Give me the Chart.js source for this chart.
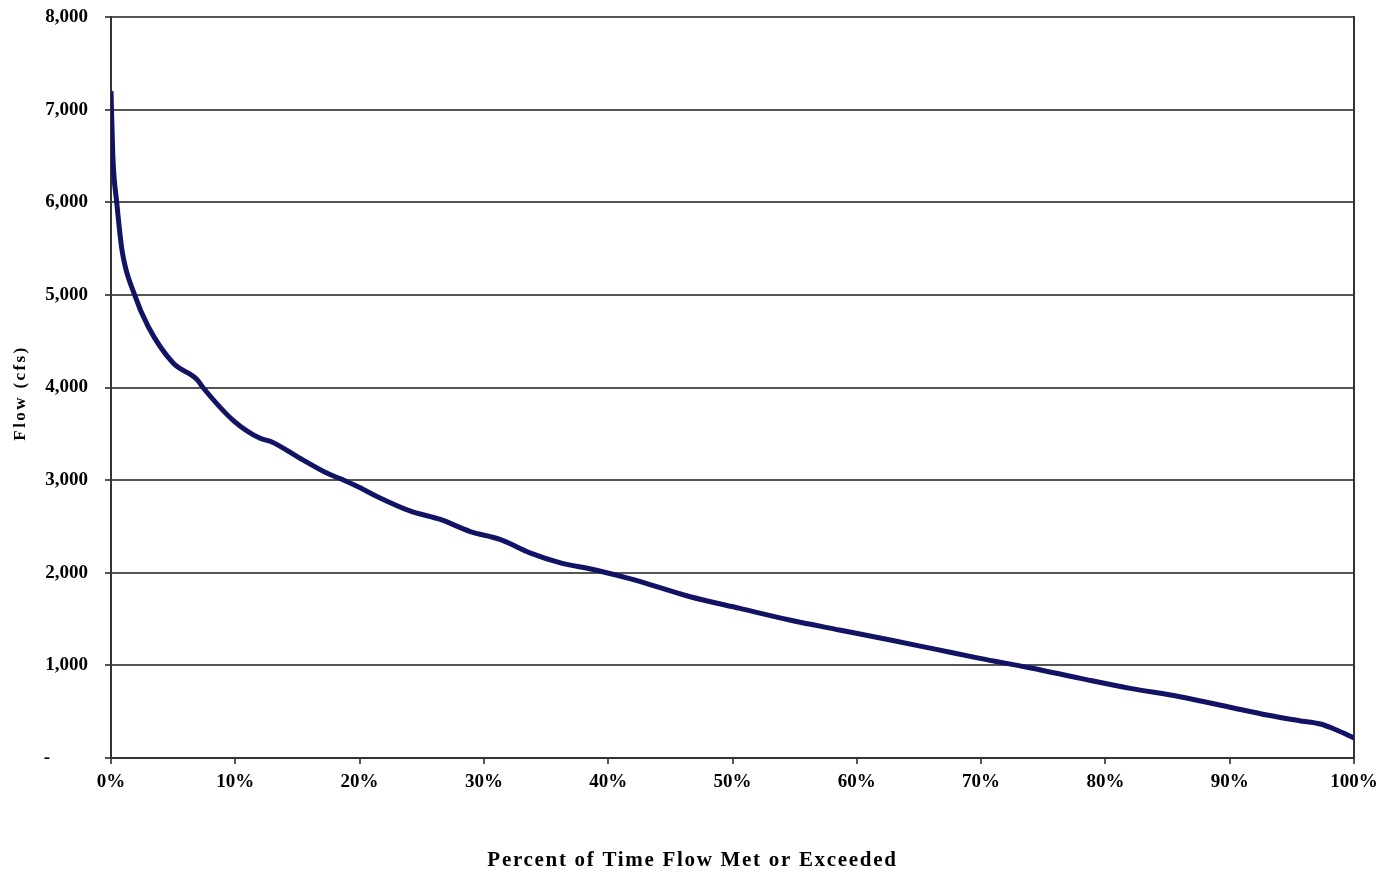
<!DOCTYPE html>
<html>
<head>
<meta charset="utf-8">
<title>Flow Duration Curve</title>
<script src="https://cdn.jsdelivr.net/npm/chart.js@4/dist/chart.umd.min.js"></script>
<style>
  html, body { margin: 0; padding: 0; background: #ffffff; }
  #wrap { width: 1385px; height: 876px; position: relative; }
</style>
</head>
<body>
<div id="wrap"><canvas id="chart" width="1385" height="876"></canvas></div>
<script>
// Percent of time the flow is met or exceeded
const percentTime = [0, 0.15, 0.46, 0.9, 1.9, 3.0, 5.0, 6.9, 7.4, 9.8, 12.0, 12.9, 15.2, 17.4, 18.7,
  20.0, 21.6, 24.1, 26.5, 28.9, 31.3, 33.7, 36.1, 38.8, 41.5, 42.6, 46.6, 50.6, 54.6, 58.6, 62.7, 66.3,
  69.9, 73.9, 78, 82, 86, 90.3, 93, 95.6, 97.3, 98.6, 100];
// Flow in cubic feet per second
const flowCfs = [7200, 6490, 6000, 5470, 5000, 4656, 4264, 4090, 4000, 3649, 3451, 3415, 3236, 3073, 3001,
  2920, 2810, 2665, 2575, 2445, 2360, 2215, 2110, 2035, 1945, 1904, 1741, 1615, 1490, 1382, 1274, 1175,
  1076, 975, 860, 752, 662, 540, 464, 403, 367, 302, 216];

const xTickValues = [0, 10, 20, 30, 40, 50, 60, 70, 80, 90, 100];
const yTickValues = [0, 1000, 2000, 3000, 4000, 5000, 6000, 7000, 8000];

const xTitle = 'Percent of Time Flow Met or Exceeded';
const yTitle = 'Flow (cfs)';

const points = percentTime.map((p, i) => ({ x: p, y: flowCfs[i] }));

const serif = '"Liberation Serif", "Times New Roman", serif';
const gridColor = '#555555';

// Axis titles drawn with a little letter tracking
const axisTitles = {
  id: 'axisTitles',
  afterDraw(chart) {
    const ctx = chart.ctx;
    ctx.save();
    ctx.fillStyle = '#000';
    ctx.textAlign = 'center';
    ctx.textBaseline = 'middle';

    // bottom title, centred on the canvas
    ctx.font = 'bold 21px ' + serif;
    ctx.letterSpacing = '1.7px';
    ctx.fillText(xTitle, chart.width / 2, 861);

    // left title, rotated
    ctx.font = 'bold 17px ' + serif;
    ctx.letterSpacing = '2.4px';
    ctx.translate(21, 393);
    ctx.rotate(-Math.PI / 2);
    ctx.fillText(yTitle, 0, 0);
    ctx.restore();
  }
};

new Chart(document.getElementById('chart'), {
  type: 'line',
  data: {
    datasets: [{
      data: points,
      borderColor: '#131366',
      borderWidth: 5,
      pointRadius: 0,
      fill: false,
      cubicInterpolationMode: 'monotone'
    }]
  },
  options: {
    responsive: false,
    animation: false,
    layout: { padding: { left: 0, top: 17, right: 31, bottom: 0 } },
    plugins: { legend: { display: false }, tooltip: { enabled: false } },
    scales: {
      x: {
        type: 'linear',
        min: 0, max: 100,
        afterBuildTicks: s => { s.ticks = xTickValues.map(v => ({ value: v })); },
        afterFit: s => { s.height = 118; s.paddingLeft = 0; s.paddingRight = 0; },
        grid: { drawOnChartArea: false, drawTicks: true, tickLength: 6, color: gridColor, lineWidth: 2 },
        border: { display: true, color: '#333333', width: 2 },
        ticks: {
          color: '#000', padding: 7, maxRotation: 0,
          font: { family: serif, size: 19, weight: 'bold' },
          callback: v => v + '%'
        },
        title: { display: false }
      },
      y: {
        min: 0, max: 8000,
        afterBuildTicks: s => { s.ticks = yTickValues.map(v => ({ value: v })); },
        afterFit: s => { s.width = 111; s.paddingTop = 0; s.paddingBottom = 0; },
        grid: { drawOnChartArea: true, drawTicks: true, tickLength: 6, color: gridColor, lineWidth: 2 },
        border: { display: true, color: '#333333', width: 2 },
        ticks: {
          color: '#000', padding: 17,
          font: { family: serif, size: 19, weight: 'bold' },
          callback: v => v === 0 ? '-\u2007\u2007\u2007\u2007' : v.toLocaleString('en-US')
        },
        title: { display: false }
      },
      yRight: {
        position: 'right',
        min: 0, max: 8000,
        afterFit: s => { s.width = 0; s.paddingTop = 0; s.paddingBottom = 0; },
        grid: { display: false },
        ticks: { display: false },
        border: { display: true, color: '#333333', width: 2 }
      }
    }
  },
  plugins: [axisTitles]
});
</script>
</body>
</html>
